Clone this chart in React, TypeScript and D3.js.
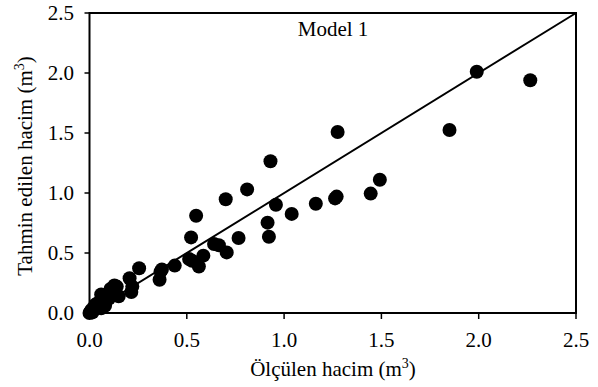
import React from "react";
import * as d3 from "d3";

const measured: number[] = [
  1.99, 2.265, 1.85, 1.275, 0.93, 1.492, 1.445, 1.27, 1.262, 1.163, 1.039, 0.958,
  0.915, 0.922, 0.81, 0.70, 0.548, 0.522, 0.766, 0.64, 0.665, 0.705, 0.585, 0.512,
  0.527, 0.562, 0.438, 0.372, 0.365, 0.36, 0.255, 0.206, 0.215, 0.22, 0.14, 0.128,
  0.108, 0.15, 0.13, 0.09, 0.06, 0.075, 0.05, 0.03, 0.04, 0.02, 0.01, 0.005, 0.0,
  0.015, 0.06, 0.08, 0.1,
];
const predicted: number[] = [
  2.01, 1.94, 1.525, 1.508, 1.264, 1.111, 0.995, 0.97, 0.955, 0.91, 0.826, 0.902,
  0.753, 0.635, 1.03, 0.948, 0.81, 0.63, 0.625, 0.575, 0.565, 0.505, 0.478, 0.45,
  0.435, 0.388, 0.395, 0.362, 0.345, 0.277, 0.373, 0.29, 0.175, 0.22, 0.22, 0.23,
  0.2, 0.14, 0.16, 0.14, 0.155, 0.1, 0.09, 0.07, 0.05, 0.04, 0.025, 0.01, 0.0,
  0.005, 0.04, 0.06, 0.12,
];
const xTicks: number[] = [0, 0.5, 1.0, 1.5, 2.0, 2.5];
const yTicks: number[] = [0, 0.5, 1.0, 1.5, 2.0, 2.5];
const refLine: number[] = [0, 2.5];
const title = "Model 1";
const xTitle = "Ölçülen hacim (m";
const yTitle = "Tahmin edilen hacim (m";

const W = 598;
const H = 387;
const left = 89.5;
const right = 576;
const top = 13;
const bottom = 313;
const fs = 21;
const font = "'Times New Roman', 'Liberation Serif', serif";

export default function App() {
  const x = d3.scaleLinear().domain([0, 2.5]).range([left, right]);
  const y = d3.scaleLinear().domain([0, 2.5]).range([bottom, top]);
  const line = d3
    .line<number>()
    .x((d) => x(d))
    .y((d) => y(d));
  const fmt = d3.format(".1f");
  const pts = measured.map((m, i) => ({ m, p: predicted[i] }));
  return (
    <div style={{ position: "absolute", left: 0, top: 0 }}>
      <svg width={W} height={H} style={{ display: "block", background: "#fff" }} fontFamily={font}>
        <rect x={0} y={0} width={W} height={H} fill="#fff" />
        {xTicks.map((t) => (
          <line key={"xt" + t} x1={x(t)} x2={x(t)} y1={bottom} y2={bottom + 6} stroke="#000" strokeWidth={1.5} />
        ))}
        {yTicks.map((t) => (
          <line key={"yt" + t} x1={left - 5} x2={left} y1={y(t)} y2={y(t)} stroke="#000" strokeWidth={1.5} />
        ))}
        {xTicks.map((t) => (
          <text key={"xl" + t} x={x(t)} y={347} textAnchor="middle" fontSize={fs} fill="#000">
            {fmt(t)}
          </text>
        ))}
        {yTicks.map((t) => (
          <text key={"yl" + t} x={74} y={y(t) + 7} textAnchor="end" fontSize={fs} fill="#000">
            {fmt(t)}
          </text>
        ))}
        {pts.map((d, i) => (
          <circle key={i} cx={x(d.m)} cy={y(d.p)} r={7} fill="#000" />
        ))}
        <path d={line(refLine) || ""} fill="none" stroke="#000" strokeWidth={2} />
        <rect x={left} y={top} width={right - left} height={bottom - top} fill="none" stroke="#000" strokeWidth={2} />
        <text x={333} y={36} textAnchor="middle" fontSize={fs} fill="#000">
          {title}
        </text>
        <text x={333} y={376} textAnchor="middle" fontSize={fs} fill="#000">
          {xTitle}
          <tspan fontSize={14} dy={-8}>3</tspan>
          <tspan dy={8}>)</tspan>
        </text>
        <text
          transform={`translate(32, ${(top + bottom) / 2 + 3}) rotate(-90)`}
          textAnchor="middle"
          fontSize={fs}
          fill="#000"
        >
          {yTitle}
          <tspan fontSize={14} dy={-8}>3</tspan>
          <tspan dy={8}>)</tspan>
        </text>
      </svg>
    </div>
  );
}
